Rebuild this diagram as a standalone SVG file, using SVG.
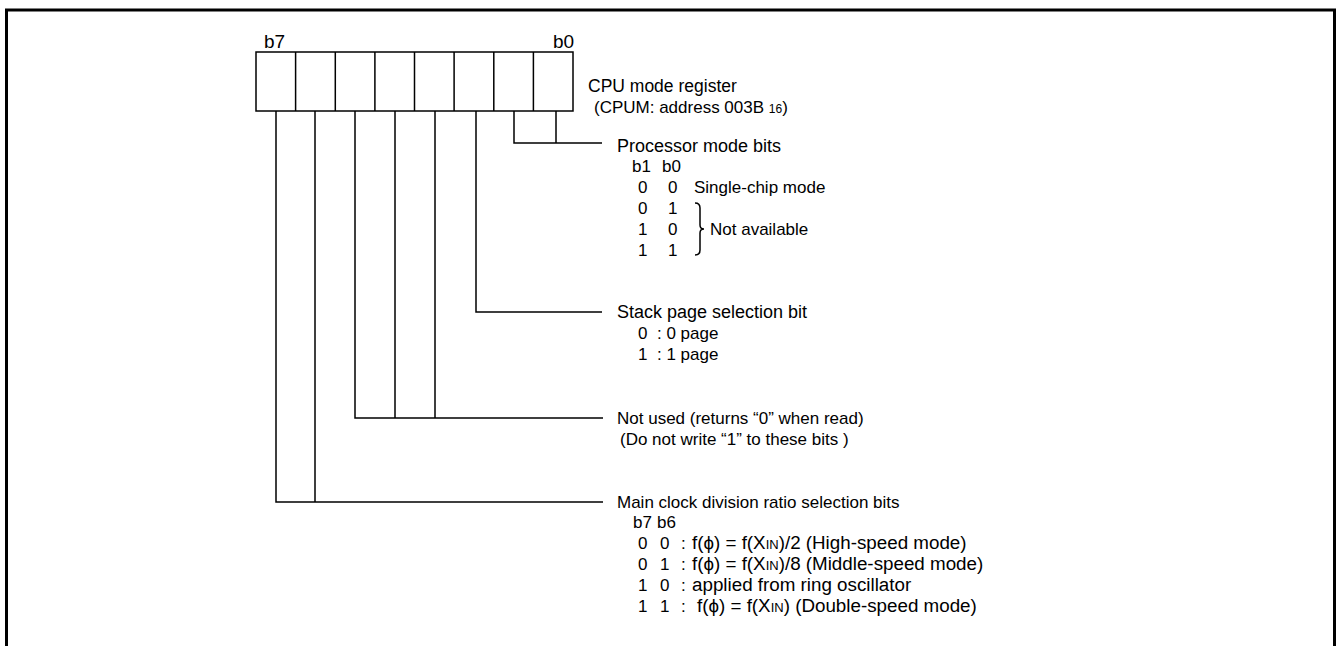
<svg xmlns="http://www.w3.org/2000/svg" width="1338" height="646" viewBox="0 0 1338 646">
<style>
text{font-family:"Liberation Sans",Arial,sans-serif;font-size:17px;fill:#000}
.hd{font-size:18px}
.big{font-size:19px}
.row{font-size:18.8px}
.ln{stroke:#000;stroke-width:1.5;fill:none}
.sm{font-size:12px}
.rs{font-size:13px}
</style>
<rect x="0" y="0" width="1338" height="646" fill="#fff"/>
<rect x="6.5" y="10" width="1328" height="660" fill="none" stroke="#000" stroke-width="3"/>
<g id="register">
<rect x="256" y="52" width="317" height="59" class="ln"/>
<path class="ln" d="M295.6 52V111M335.3 52V111M374.9 52V111M414.5 52V111M454.1 52V111M493.8 52V111M533.4 52V111"/>
<text class="big" x="264" y="48">b7</text>
<text class="big" x="553" y="48">b0</text>
<text x="588" y="92" style="font-size:17.5px">CPU mode register</text>
<text x="594" y="113">(CPUM: address 003B <tspan class="sm">16</tspan>)</text>
</g>
<g id="connectors">
<path class="ln" d="M276 111V502H603M315 111V502"/>
<path class="ln" d="M355 111V418H603M395 111V418M435 111V418"/>
<path class="ln" d="M476 111V312H602"/>
<path class="ln" d="M514 111V143H602M556 111V143"/>
</g>
<g id="processor-mode">
<text class="hd" x="617" y="152">Processor mode bits</text>
<text x="632" y="172">b1</text><text x="662" y="172">b0</text>
<text x="638" y="193">0</text><text x="668" y="193">0</text><text x="694" y="193">Single-chip mode</text>
<text x="638" y="214">0</text><text x="668" y="214">1</text>
<text x="638" y="235">1</text><text x="668" y="235">0</text>
<text x="638" y="256">1</text><text x="668" y="256">1</text>
<path class="ln" d="M695 203Q700 203 700 208V225Q700 229 704 229Q700 229 700 233V250Q700 255 695 255"/>
<text x="710" y="235">Not available</text>
</g>
<g id="stack-page">
<text class="hd" x="617" y="318">Stack page selection bit</text>
<text x="638" y="339">0</text><text x="657" y="339">: 0 page</text>
<text x="638" y="360">1</text><text x="657" y="360">: 1 page</text>
</g>
<g id="not-used">
<text x="617" y="424">Not used (returns “0” when read)</text>
<text x="620" y="445">(Do not write “1” to these bits )</text>
</g>
<g id="main-clock">
<text x="617" y="508">Main clock division ratio selection bits</text>
<text x="633" y="528">b7</text><text x="657" y="528">b6</text>
<text x="638" y="549">0</text><text x="660" y="549">0</text><text x="681" y="549">:</text>
<text class="row" x="692" y="549">f(ϕ) = f(X<tspan class="rs">IN</tspan>)/2 (High-speed mode)</text>
<text x="638" y="570">0</text><text x="660" y="570">1</text><text x="681" y="570">:</text>
<text class="row" x="692" y="570">f(ϕ) = f(X<tspan class="rs">IN</tspan>)/8 (Middle-speed mode)</text>
<text x="638" y="591">1</text><text x="660" y="591">0</text><text x="681" y="591">:</text>
<text class="row" x="692" y="591">applied from ring oscillator</text>
<text x="638" y="612">1</text><text x="660" y="612">1</text><text x="681" y="612">:</text>
<text class="row" x="697" y="612">f(ϕ) = f(X<tspan class="rs">IN</tspan>) (Double-speed mode)</text>
</g>
</svg>
